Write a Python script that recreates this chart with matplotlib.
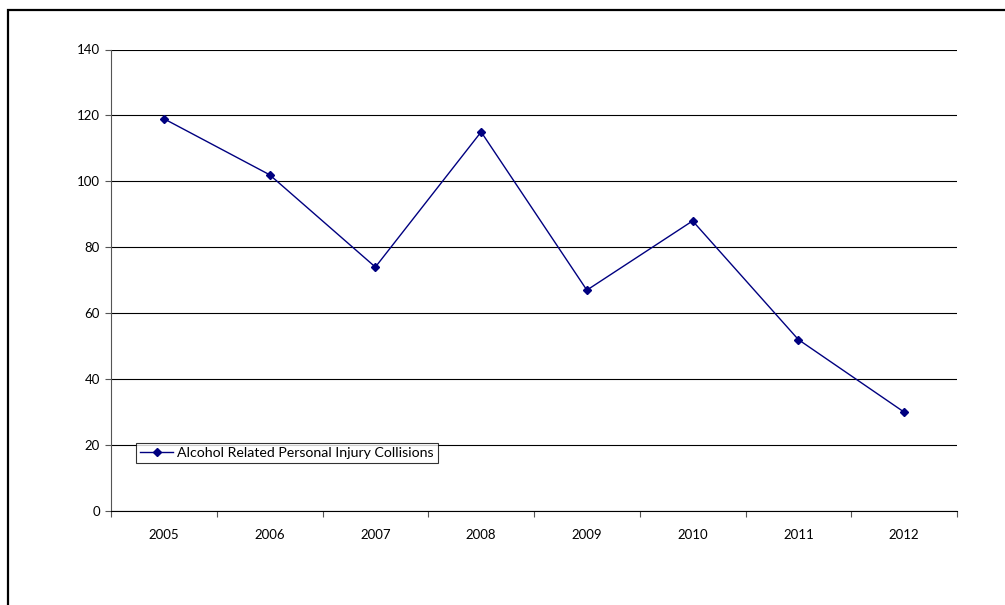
import matplotlib
matplotlib.use("Agg")
import matplotlib.pyplot as plt
from matplotlib.patches import Rectangle
from matplotlib.ticker import FixedLocator, NullFormatter

years = ["2005", "2006", "2007", "2008", "2009", "2010", "2011", "2012"]
collisions = [119, 102, 74, 115, 67, 88, 52, 30]
series_name = "Alcohol Related Personal Injury Collisions"
y_ticks = [0, 20, 40, 60, 80, 100, 120, 140]

plt.rcParams["font.family"] = ["Lato", "DejaVu Sans"]

W, H = 1005, 605
fig = plt.figure(figsize=(W / 100, H / 100), dpi=100)

# chart frame (runs off the right and bottom edges)
fig.patches.append(Rectangle((8 / W, -0.1), 1.2, 1 - 10 / H + 0.1,
                             transform=fig.transFigure, fill=False,
                             edgecolor="black", linewidth=1.6))

left, right, top, bottom = 111, 957, 49.5, 511
ax = fig.add_axes([left / W, 1 - bottom / H, (right - left) / W, (bottom - top) / H])

x = list(range(len(years)))
ax.plot(x, collisions, color="#000080", linewidth=1.0, marker="D",
        markersize=4.2, markerfacecolor="#000080", markeredgecolor="#000080",
        label=series_name, zorder=3)

ax.set_xlim(-0.5, len(years) - 0.5)
ax.set_ylim(0, 140)
ax.set_yticks(y_ticks)
ax.set_yticklabels([str(v) for v in y_ticks], fontsize=9.5)
ax.yaxis.grid(True, color="black", linewidth=0.8)
ax.set_axisbelow(True)

ax.set_xticks(x)
ax.set_xticklabels(years, fontsize=9.5)
ax.tick_params(axis="x", which="major", length=0, pad=13)
ax.xaxis.set_minor_locator(FixedLocator([i - 0.5 for i in range(len(years) + 1)]))
ax.xaxis.set_minor_formatter(NullFormatter())
ax.tick_params(axis="x", which="minor", length=4, width=0.8, color="#555555")
ax.tick_params(axis="y", length=4, width=0.8, color="#555555", pad=4)

for s in ["top", "right"]:
    ax.spines[s].set_visible(False)
ax.spines["left"].set_color("#555555")
ax.spines["bottom"].set_color("black")
ax.spines["left"].set_linewidth(0.8)
ax.spines["bottom"].set_linewidth(0.8)

leg = ax.legend(loc="lower left", bbox_to_anchor=((136 - left) / (right - left),
                                                  (bottom - 463) / (bottom - top)),
                fontsize=10.2, frameon=True, fancybox=False, borderpad=0.3,
                handlelength=2.3, handletextpad=0.3, borderaxespad=0)
leg.get_frame().set_edgecolor("black")
leg.get_frame().set_linewidth(0.8)

fig.savefig("out.png", dpi=100)
